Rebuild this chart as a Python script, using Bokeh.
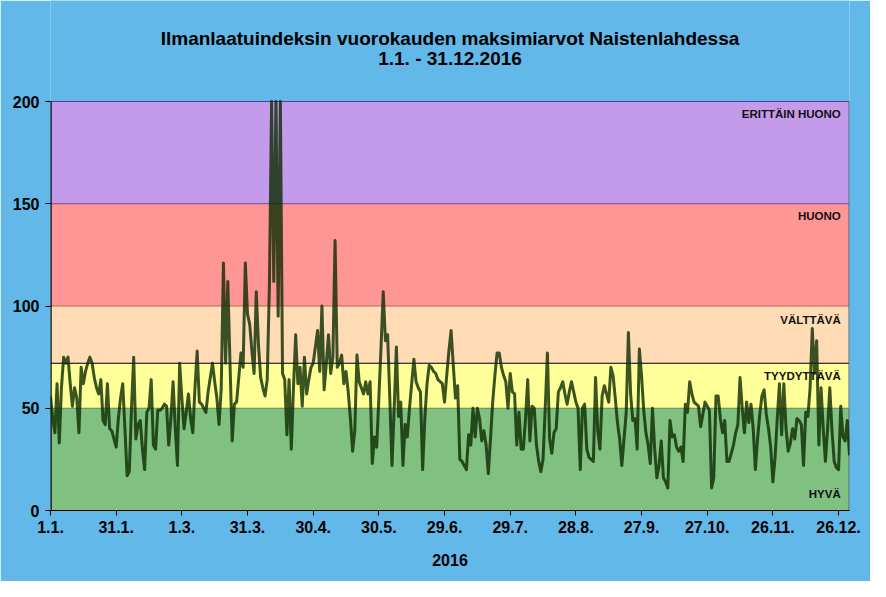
from bokeh.plotting import figure
from bokeh.models import FixedTicker, Range1d
from bokeh.core.properties import value
from bokeh.embed import file_html
from bokeh.resources import INLINE

# daily maximum air quality index, 1.1.-31.12.2016 (day index 0..365)
aqi = [
    56, 45, 38, 62, 33, 60, 75, 72, 75, 62, 51, 60, 55, 38, 70, 62, 68, 72, 75, 72,
    65, 60, 57, 64, 44, 42, 62, 40, 39, 35, 31, 45, 55, 62, 40, 17, 19, 50, 75, 35,
    42, 44, 30, 20, 48, 50, 64, 32, 30, 49, 49, 50, 52, 51, 32, 45, 63, 40, 22, 72,
    55, 40, 48, 57, 45, 38, 60, 78, 53, 52, 50, 48, 58, 65, 72, 63, 55, 42, 60, 121,
    72, 112, 72, 34, 52, 53, 65, 77, 70, 121, 96, 91, 78, 67, 107, 81, 65, 60, 56, 64,
    110, 200, 112, 200, 95, 200, 67, 64, 37, 64, 30, 60, 86, 62, 70, 51, 75, 57, 64, 70,
    72, 80, 88, 68, 100, 59, 72, 86, 67, 75, 132, 70, 72, 76, 62, 68, 58, 45, 29, 39,
    76, 63, 60, 57, 63, 57, 63, 23, 36, 31, 55, 80, 107, 83, 86, 55, 22, 50, 80, 46,
    53, 22, 42, 36, 50, 62, 74, 63, 60, 58, 20, 45, 62, 71, 70, 68, 67, 64, 63, 62,
    53, 66, 78, 88, 71, 55, 61, 25, 24, 22, 20, 37, 32, 50, 36, 50, 45, 34, 39, 32,
    18, 35, 53, 66, 77, 77, 70, 66, 63, 50, 67, 58, 57, 32, 48, 30, 30, 45, 64, 34,
    51, 50, 32, 24, 19, 25, 50, 77, 35, 28, 38, 40, 58, 60, 63, 57, 52, 58, 63, 58,
    53, 50, 20, 50, 52, 30, 26, 25, 24, 65, 39, 30, 56, 61, 57, 53, 70, 66, 55, 43,
    35, 22, 35, 48, 87, 57, 44, 45, 30, 79, 66, 49, 38, 32, 23, 50, 30, 16, 22, 34,
    16, 14, 11, 44, 36, 37, 31, 29, 31, 24, 52, 48, 63, 57, 53, 52, 51, 41, 47, 53,
    51, 49, 11, 16, 56, 56, 45, 38, 44, 24, 24, 28, 32, 38, 42, 65, 50, 38, 53, 43,
    52, 40, 20, 35, 47, 56, 59, 47, 40, 31, 14, 26, 45, 62, 37, 62, 40, 29, 33, 40,
    35, 45, 44, 42, 22, 48, 46, 60, 89, 67, 83, 32, 60, 40, 24, 40, 60, 39, 24, 21,
    20, 51, 36, 34, 44, 27,
]
days = list(range(len(aqi)))
DAY_MAX = 365
AQI_MAX = 200

tick_days = [0, 30, 60, 90, 120, 150, 180, 210, 240, 270, 300, 330, 360]
tick_labels = ["1.1.", "31.1.", "1.3.", "31.3.", "30.4.", "30.5.", "29.6.",
               "29.7.", "28.8.", "27.9.", "27.10.", "26.11.", "26.12."]
y_ticks = [0, 50, 100, 150, 200]

band_low = [0, 50, 72, 100, 150]
band_high = [50, 72, 100, 150, 200]
band_colors = ["#80c080", "#ffff99", "#ffdcb5", "#ff9696", "#c49aea"]
band_edge_colors = ["#5e8a4e", "#000000", "#b46a5a", "#8a4a7a", "#5a3a9a"]

class_names = ["HYVÄ", "TYYDYTTÄVÄ", "VÄLTTÄVÄ", "HUONO", "ERITTÄIN HUONO"]
class_label_y = [8, 66, 93, 144, 194]

title_lines = ["Ilmanlaatuindeksin vuorokauden maksimiarvot Naistenlahdessa",
               "1.1. - 31.12.2016"]
title_y = [230.8, 221.0]   # title baselines in value units, above the 200 top

BG = "#62b8e8"
FONT = "Liberation Sans Narrow, Arial Narrow, Liberation Sans"

# frame reaches the top of the canvas so the title can be drawn as text
p = figure(width=870, height=581, output_backend="svg", toolbar_location=None,
           x_range=Range1d(0, DAY_MAX), y_range=Range1d(0, 249.4),
           min_border_left=50, min_border_right=21, min_border_top=0,
           min_border_bottom=71)
p.background_fill_color = BG
p.border_fill_color = BG
p.outline_line_color = None
p.xgrid.visible = False
p.ygrid.visible = False

# quality bands
p.quad(left=0, right=DAY_MAX, bottom=band_low, top=band_high,
       fill_color=band_colors, line_color=None)
p.segment(x0=0, x1=DAY_MAX, y0=band_high, y1=band_high,
          line_color=band_edge_colors, line_width=1.2)
# right edge of the chart area and y-axis line (up to 200 only)
p.segment(x0=[DAY_MAX], x1=[DAY_MAX], y0=[0], y1=[AQI_MAX],
          line_color="#4a6a8a", line_width=2)
p.segment(x0=[0], x1=[0], y0=[0], y1=[AQI_MAX],
          line_color="#000000", line_width=2.4)

# data line
p.line(days, aqi, line_color="#0b2a00", line_alpha=0.8, line_width=3,
       line_join="round")

# class names
p.text(x=[361] * len(class_names), y=class_label_y, text=class_names,
       text_align="right", text_baseline="middle",
       text_font=value("Liberation Sans"), text_font_style="bold",
       text_font_size="11.5px", text_color="#111111")

# title
p.text(x=[DAY_MAX / 2] * 2, y=title_y, text=title_lines,
       text_align="center", text_baseline="middle",
       text_font=value(FONT), text_font_style="bold",
       text_font_size="19px", text_color="#000000")

p.xaxis.ticker = FixedTicker(ticks=tick_days)
p.xaxis.major_label_overrides = {d: l for d, l in zip(tick_days, tick_labels)}
p.yaxis.ticker = FixedTicker(ticks=y_ticks)
for ax in (p.xaxis[0], p.yaxis[0]):
    ax.axis_line_color = "#000000"
    ax.axis_line_width = 1.2
    ax.major_tick_line_color = "#000000"
    ax.major_tick_in = 0
    ax.major_tick_out = 5
    ax.minor_tick_line_color = None
    ax.major_label_text_font = FONT
    ax.major_label_text_font_style = "bold"
    ax.major_label_text_font_size = "16px"
    ax.major_label_text_color = "#000000"
p.yaxis.axis_line_color = None
p.xaxis.major_label_standoff = 5
p.yaxis.major_label_standoff = 6
p.xaxis.axis_label = "2016"
p.xaxis.axis_label_text_font = FONT
p.xaxis.axis_label_text_font_style = "bold"
p.xaxis.axis_label_text_font_size = "16px"
p.xaxis.axis_label_text_color = "#000000"
p.xaxis.axis_label_standoff = 18

open("out.html", "w").write(file_html(p, INLINE))
